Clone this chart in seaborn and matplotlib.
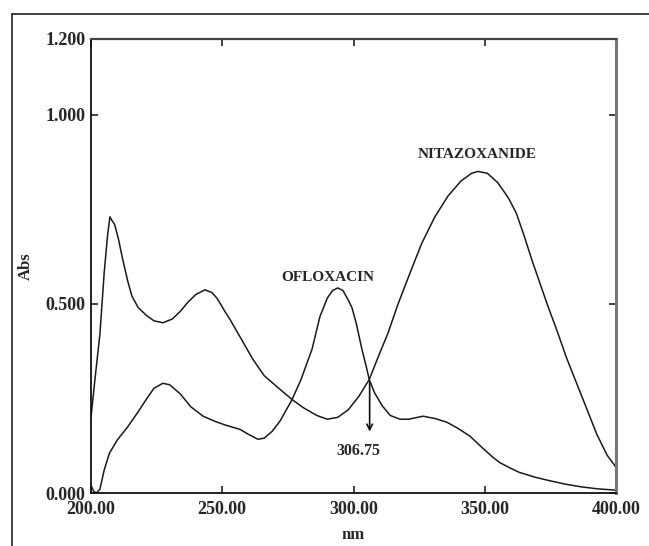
import numpy as np
import pandas as pd
import seaborn as sns
import matplotlib.pyplot as plt
from matplotlib.lines import Line2D

# absorbance spectra (wavelength nm, Abs)
nitazoxanide_nm = [200, 201.5, 203.4, 205, 206.3, 207.2, 208, 209, 210.5, 212, 214, 215.6,
                   218, 221, 224, 227.4, 231, 234, 237, 240, 243.4, 246, 248, 251, 253,
                   257, 261.7, 266, 272, 276.6, 281, 286, 290, 294, 298, 302, 306, 310,
                   313, 317, 322, 326, 331, 336, 341, 345, 347.4, 351, 355, 359, 362,
                   365, 368, 371, 374, 378, 381, 385, 389, 392.7, 396.6, 400]
nitazoxanide_abs = [0.20, 0.30, 0.42, 0.58, 0.68, 0.73, 0.72, 0.71, 0.67, 0.62, 0.56, 0.52,
                    0.49, 0.47, 0.455, 0.45, 0.46, 0.48, 0.505, 0.525, 0.537, 0.53, 0.515, 0.48, 0.458,
                    0.41, 0.353, 0.31, 0.274, 0.247, 0.225, 0.205, 0.195, 0.20, 0.22, 0.255, 0.30, 0.37,
                    0.42, 0.50, 0.59, 0.66, 0.73, 0.785, 0.825, 0.845, 0.85, 0.845, 0.82, 0.78, 0.74,
                    0.68, 0.615, 0.555, 0.495, 0.42, 0.36, 0.29, 0.22, 0.155, 0.10, 0.068]

ofloxacin_nm = [200, 201, 202, 203.4, 205, 207, 210, 214, 218, 221, 224, 227.4, 230, 234,
                238, 242.7, 247, 251, 256.8, 260, 263.6, 266, 269, 272, 276.6, 280, 284.2,
                287.2, 290, 292, 294, 296, 298, 299.4, 301, 303.2, 305, 306, 308, 311, 314,
                317.7, 321, 326.5, 331, 335.6, 340, 344.4, 349, 353, 355.8, 360, 363, 369,
                375, 381, 387, 393, 399, 400]
ofloxacin_abs = [0.02, 0.005, 0.0, 0.01, 0.06, 0.105, 0.14, 0.175, 0.215, 0.247, 0.277, 0.29, 0.286, 0.262,
                 0.228, 0.203, 0.19, 0.18, 0.168, 0.155, 0.142, 0.145, 0.163, 0.19, 0.247, 0.30, 0.38,
                 0.466, 0.515, 0.535, 0.542, 0.535, 0.51, 0.49, 0.45, 0.38, 0.33, 0.30, 0.265, 0.23, 0.205,
                 0.195, 0.195, 0.203, 0.197, 0.187, 0.17, 0.15, 0.12, 0.095, 0.08, 0.065, 0.055, 0.042,
                 0.032, 0.023, 0.016, 0.011, 0.008, 0.007]

x_ticks = [200, 250, 300, 350, 400]
x_labels = ['200.00', '250.00', '300.00', '350.00', '400.00']
y_ticks = [0, 0.5, 1.0, 1.2]
y_labels = ['0.000', '0.500', '1.000', '1.200']

iso_nm, iso_abs = 306.75, 0.30

df = pd.concat([
    pd.DataFrame({'nm': nitazoxanide_nm, 'Abs': nitazoxanide_abs, 'drug': 'NITAZOXANIDE'}),
    pd.DataFrame({'nm': ofloxacin_nm, 'Abs': ofloxacin_abs, 'drug': 'OFLOXACIN'}),
])

sns.set_style('ticks')
plt.rcParams['font.family'] = ['Liberation Serif', 'DejaVu Serif']
plt.rcParams['font.weight'] = 'bold'

fig = plt.figure(figsize=(6.49, 5.46), dpi=100)
ax = fig.add_axes([91 / 649, 1 - 493 / 546, 525 / 649, 454 / 546])

sns.lineplot(data=df, x='nm', y='Abs', units='drug', estimator=None, sort=False,
             color='#1a1a1a', linewidth=1.1, ax=ax, legend=False)

ax.set_xlim(200, 400)
ax.set_ylim(0, 1.2)
ax.set_xticks(x_ticks)
ax.set_xticklabels(x_labels)
ax.set_yticks(y_ticks)
ax.set_yticklabels(y_labels)
ax.tick_params(direction='in', top=True, right=True, length=5, width=1.2,
               labelsize=13, color='#222222')
ax.tick_params(axis='x', pad=6)
ax.tick_params(axis='y', pad=4)
for t in ax.get_xticklabels() + ax.get_yticklabels():
    t.set_fontweight('bold')

ax.set_xlabel('nm', fontsize=12, fontweight='bold', labelpad=6)
ax.set_ylabel('Abs', fontsize=12, fontweight='bold', labelpad=8)

for side in ['left', 'bottom']:
    ax.spines[side].set_linewidth(1.3)
    ax.spines[side].set_color('#111111')
ax.spines['top'].set_linewidth(1.6)
ax.spines['top'].set_color('#444444')
ax.spines['right'].set_linewidth(2.2)
ax.spines['right'].set_color('#777777')

ax.text(290, 0.57, 'OFLOXACIN', ha='center', va='center', fontsize=11, fontweight='bold')
ax.text(347, 0.895, 'NITAZOXANIDE', ha='center', va='center', fontsize=11, fontweight='bold')
ax.annotate('', xy=(iso_nm - 0.6, 0.155), xytext=(iso_nm - 0.6, iso_abs),
            arrowprops=dict(arrowstyle='->', color='#111111', lw=1.2))
ax.text(301.7, 0.11, '306.75', ha='center', va='center', fontsize=11.5, fontweight='bold')

# outer frame of the figure (top and left edges)
fig.add_artist(Line2D([12 / 649, 1], [1 - 14 / 546] * 2, color='#222222', lw=1.2))
fig.add_artist(Line2D([12 / 649] * 2, [0, 1 - 14 / 546], color='#222222', lw=1.2))

fig.savefig('out.png', dpi=100)
